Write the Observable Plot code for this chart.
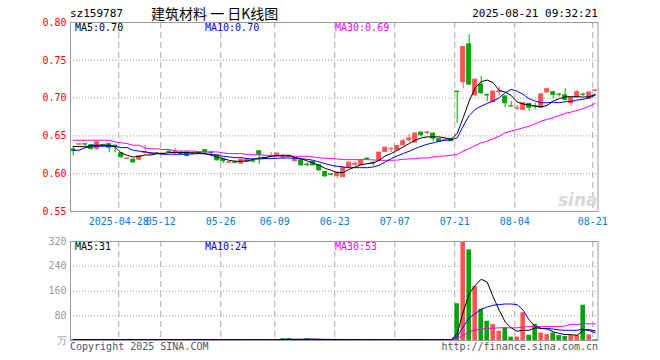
<!DOCTYPE html>
<html>
<head>
<meta charset="utf-8">
<script src="https://cdn.jsdelivr.net/npm/d3@7"></script>
<script src="https://cdn.jsdelivr.net/npm/@observablehq/plot@0.6"></script>
<style>
  html, body { margin: 0; padding: 0; background: #fff; }
  #wrap { position: relative; width: 660px; height: 360px; background: #fff; overflow: hidden;
          font-family: "DejaVu Sans Mono", "Liberation Mono", monospace; font-size: 10px; }
  .abs { position: absolute; white-space: nowrap; line-height: 1; }
  svg { position: absolute; left: 0; overflow: visible; }
</style>
</head>
<body>
<div id="wrap">
  <div class="abs" style="left:70px;top:8px;font-size:11px;color:#000;">sz159787</div>
  <div class="abs" style="left:151px;top:6px;font-size:14px;color:#000;font-family:'Noto Sans CJK SC',sans-serif;">建筑材料 一 日K线图</div>
  <div class="abs" style="right:62px;top:8px;font-size:11px;color:#000;">2025-08-21 09:32:21</div>
  <div class="abs" style="left:75px;top:23px;color:#000;">MA5:0.70</div>
  <div class="abs" style="left:205px;top:23px;color:#0000ff;">MA10:0.70</div>
  <div class="abs" style="left:335px;top:23px;color:#ff00ff;">MA30:0.69</div>
  <div class="abs" style="left:75px;top:242px;color:#000;z-index:2;">MA5:31</div>
  <div class="abs" style="left:205px;top:242px;color:#0000ff;z-index:2;">MA10:24</div>
  <div class="abs" style="left:335px;top:242px;color:#ff00ff;z-index:2;">MA30:53</div>
  <div class="abs" style="left:70px;top:342px;color:#555;">Copyright 2025 SINA.COM</div>
  <div class="abs" style="right:62px;top:342px;color:#555;">http://finance.sina.com.cn</div>
  <div class="abs" style="left:558px;top:192px;font-size:17px;font-weight:bold;font-style:italic;color:#d8d8d8;font-family:'DejaVu Sans',sans-serif;z-index:2;">sina</div>
</div>
<script>
// ---- data ----
const tickIdx    = [8, 15, 25, 34, 44, 54, 64, 74, 87];
const tickLabels = ["2025-04-28", "05-12", "05-26", "06-09", "06-23", "07-07", "07-21", "08-04", "08-21"];
const priceTicks = [0.55, 0.60, 0.65, 0.70, 0.75, 0.80];
const volTicks   = [0, 80, 160, 240, 320];

const openP = [
  0.632,0.6385,0.6390,0.6376,0.6330,0.6380,0.6390,0.6370,0.6270,0.6195,
  0.6186,0.6186,0.6275,0.6260,0.6270,0.6260,0.6292,0.6290,0.6280,0.6280,
  0.6270,0.6280,0.6310,0.6280,0.6244,0.6190,0.6145,0.6150,0.6133,0.6155,
  0.6165,0.6297,0.6210,0.6222,0.6230,0.6222,0.6228,0.6165,0.6177,0.6120,
  0.6155,0.6110,0.6023,0.5990,0.5970,0.5956,0.6089,0.6120,0.6111,0.6200,
  0.6143,0.6177,0.6288,0.6325,0.6310,0.6376,0.6443,0.6412,0.6544,0.6540,
  0.6531,0.6456,0.6440,0.6461,0.7085,0.7211,0.7710,0.7035,0.7180,0.7040,
  0.6946,0.7080,0.7021,0.6890,0.6862,0.6845,0.6924,0.6890,0.6871,0.7074,
  0.7078,0.7045,0.7035,0.6932,0.7012,0.7045,0.6991,0.7095];
const highP = [
  0.6354,0.6400,0.6395,0.6380,0.6420,0.6390,0.6400,0.6380,0.6275,0.6210,
  0.6190,0.6232,0.6376,0.6280,0.6275,0.6270,0.6310,0.6330,0.6285,0.6285,
  0.6285,0.6285,0.6315,0.6285,0.6250,0.6195,0.6155,0.6170,0.6186,0.6190,
  0.6177,0.6300,0.6215,0.6280,0.6270,0.6250,0.6232,0.6215,0.6180,0.6142,
  0.6158,0.6115,0.6030,0.6000,0.6018,0.6076,0.6150,0.6155,0.6170,0.6205,
  0.6155,0.6280,0.6348,0.6333,0.6370,0.6456,0.6518,0.6535,0.6548,0.6562,
  0.6535,0.6460,0.6465,0.6465,0.7085,0.7675,0.7840,0.7243,0.7286,0.7055,
  0.7090,0.7154,0.7035,0.6955,0.6902,0.6935,0.6928,0.6932,0.7060,0.7120,
  0.7080,0.7066,0.7123,0.7008,0.7100,0.7066,0.7078,0.7110];
const lowP = [
  0.6235,0.6375,0.6350,0.6310,0.6310,0.6360,0.6275,0.6275,0.6200,0.6190,
  0.6140,0.6175,0.6260,0.6250,0.6250,0.6250,0.6280,0.6244,0.6255,0.6220,
  0.6250,0.6255,0.6275,0.6240,0.6170,0.6133,0.6135,0.6135,0.6130,0.6150,
  0.6142,0.6120,0.6190,0.6210,0.6225,0.6190,0.6215,0.6160,0.6105,0.6090,
  0.6105,0.6030,0.5956,0.5978,0.5934,0.5950,0.6085,0.6098,0.6105,0.6177,
  0.6098,0.6175,0.6285,0.6279,0.6305,0.6370,0.6412,0.6410,0.6487,0.6518,
  0.6420,0.6415,0.6430,0.6425,0.6665,0.7123,0.7167,0.7030,0.7050,0.6955,
  0.6940,0.7020,0.6871,0.6885,0.6836,0.6840,0.6826,0.6845,0.6865,0.7070,
  0.6990,0.7013,0.6970,0.6889,0.7010,0.7022,0.6980,0.7090];
const closeP = [
  0.6300,0.6390,0.6385,0.6328,0.6416,0.6375,0.6345,0.6355,0.6221,0.6200,
  0.6150,0.6230,0.6285,0.6270,0.6262,0.6266,0.6290,0.6295,0.6260,0.6235,
  0.6275,0.6265,0.6280,0.6275,0.6177,0.6165,0.6150,0.6145,0.6186,0.6190,
  0.6160,0.6252,0.6195,0.6235,0.6266,0.6220,0.6222,0.6212,0.6110,0.6115,
  0.6110,0.6045,0.5965,0.5985,0.6014,0.6076,0.6146,0.6133,0.6168,0.6195,
  0.6140,0.6279,0.6345,0.6330,0.6367,0.6429,0.6465,0.6531,0.6509,0.6544,
  0.6465,0.6420,0.6445,0.6430,0.7080,0.7675,0.7180,0.7243,0.7065,0.7035,
  0.7087,0.7087,0.6932,0.6888,0.6866,0.6932,0.6871,0.6888,0.7048,0.7118,
  0.7044,0.7043,0.6977,0.7004,0.7078,0.7043,0.7074,0.7100];

const ma5 = [
  0.636,0.636,0.6354,0.6376,0.6376,0.6376,0.6376,0.6354,0.6275,0.6244,
  0.622,0.623,0.6248,0.6248,0.6266,0.6266,0.628,0.628,0.628,0.628,
  0.6275,0.6275,0.6266,0.6244,0.622,0.620,0.6177,0.6164,0.6164,0.6168,
  0.619,0.6208,0.6213,0.623,0.6239,0.6244,0.6244,0.6213,0.620,0.6168,
  0.6142,0.6111,0.607,0.6045,0.6014,0.6014,0.6058,0.6089,0.612,0.6133,
  0.6142,0.6177,0.6235,0.6266,0.631,0.6354,0.6398,0.6443,0.6473,0.6487,
  0.6487,0.6487,0.6473,0.6454,0.6532,0.674,0.6961,0.7137,0.7217,0.7239,
  0.7204,0.7102,0.708,0.7036,0.6947,0.6921,0.6912,0.6894,0.6885,0.6903,
  0.6961,0.6992,0.7018,0.7018,0.7018,0.7014,0.7018,0.7049];
const ma10 = [
  0.631,0.631,0.6345,0.6354,0.6363,0.6363,0.6363,0.6363,0.6345,0.6345,
  0.631,0.6299,0.6288,0.6275,0.6266,0.6257,0.6257,0.6257,0.6257,0.6257,
  0.6262,0.6266,0.6262,0.6257,0.6244,0.623,0.6222,0.6213,0.6213,0.620,
  0.6195,0.6195,0.620,0.620,0.6204,0.6208,0.6208,0.6204,0.6195,0.619,
  0.6177,0.6155,0.6133,0.6111,0.6098,0.6089,0.608,0.608,0.608,0.608,
  0.6089,0.6111,0.6155,0.620,0.6235,0.6266,0.6297,0.6332,0.6363,0.6389,
  0.6407,0.6429,0.6443,0.6445,0.6474,0.6629,0.677,0.685,0.6894,0.693,
  0.6961,0.7005,0.7071,0.7115,0.7093,0.7049,0.6992,0.6961,0.6939,0.6939,
  0.6947,0.6939,0.6952,0.6956,0.6974,0.6983,0.7005,0.7036];
const ma30 = [
  0.6443,0.6443,0.6443,0.6443,0.6443,0.6443,0.6443,0.642,0.641,0.6398,
  0.6376,0.6376,0.634,0.633,0.633,0.632,0.632,0.630,0.630,0.630,
  0.630,0.6288,0.6288,0.6288,0.6288,0.6275,0.6266,0.6266,0.6266,0.6255,
  0.625,0.625,0.6245,0.6235,0.6235,0.623,0.623,0.623,0.623,0.623,
  0.6222,0.621,0.6205,0.620,0.6195,0.6186,0.6186,0.6186,0.6186,0.6186,
  0.6182,0.6177,0.6177,0.6177,0.618,0.619,0.6195,0.620,0.6208,0.6208,
  0.622,0.6231,0.6235,0.6244,0.6253,0.6298,0.6333,0.6373,0.6408,0.643,
  0.6461,0.6497,0.6541,0.6563,0.6585,0.6607,0.6629,0.666,0.6695,0.6718,
  0.674,0.677,0.6797,0.6815,0.6837,0.6859,0.6894,0.693];

const vol = [
  2,2,3,2,3,2,2,2,3,2,
  2,2,3,2,2,2,2,3,2,2,
  2,2,2,2,3,2,2,2,2,2,
  2,3,2,2,2,6,6,2,3,5,
  2,3,3,3,3,3,2,2,2,2,
  2,3,3,2,2,3,3,3,2,2,
  2,2,2,3,119,320,293,175,101,62,
  52,30,41,11,11,90,17,52,24,19,
  24,16,13,16,16,114,18,3];
const volMa5 = [
  2.4,2.4,2.4,2.4,2.4,2.4,2.4,2.4,2.4,2.4,
  2.4,2.4,2.4,2.4,2.4,2.4,2.4,2.4,2.4,2.4,
  2.4,2.4,2.4,2.4,2.4,2.4,2.4,2.4,2.4,2.4,
  2.4,2.4,2.4,2.4,2.4,3.2,4,4,4,4.4,
  4.4,3.6,3.2,3.2,3,3,2.8,2.6,2.4,2.2,
  2.2,2.4,2.4,2.4,2.4,2.6,2.6,2.8,2.6,2.4,
  2.4,2.2,2.2,2.2,22,92,151,178,198,189,
  141,98,60,41,30,33,33,41,39,37,
  28,23,19,19,17,33,35,31];
const volMa10 = [
  2.5,2.5,2.5,2.5,2.5,2.5,2.5,2.5,2.5,2.5,
  2.5,2.5,2.5,2.5,2.5,2.5,2.5,2.5,2.5,2.5,
  2.5,2.5,2.5,2.5,2.5,2.5,2.5,2.5,2.5,2.5,
  2.5,2.5,2.5,2.5,2.5,2.8,3.2,3.2,3.3,3.6,
  3.6,3.6,3.6,3.6,3.4,3.1,2.8,2.8,2.7,2.4,
  2.4,2.4,2.4,2.4,2.4,2.4,2.4,2.4,2.4,2.4,
  2.4,2.4,2.4,2.4,12,44,73,87,101,108,
  114,116,118,118,116,98,66,47,39,39,
  37,34,33,33,33,37,32,25];
const volMa30 = [
  2.8,2.8,2.8,2.8,2.8,2.8,2.8,2.8,2.8,2.8,
  2.8,2.8,2.8,2.8,2.8,2.8,2.8,2.8,2.8,2.8,
  2.8,2.8,2.8,2.8,2.8,2.8,2.8,2.8,2.8,2.8,
  2.8,2.8,2.8,2.8,2.8,2.8,2.8,2.8,2.8,2.8,
  2.8,2.8,2.8,2.8,2.8,2.8,2.8,2.8,2.8,2.8,
  2.8,2.8,2.8,2.8,2.8,2.8,2.8,2.8,2.8,2.8,
  2.8,2.8,2.8,2.8,6,17,28,33,37,39,
  40,41,41,41,41,44,45,45,45,45,
  45,45,47,52,52,54,54,54];

// ---- build table ----
const RED = "#ff5353", GREEN = "#00a600";
const rows = openP.map((o, i) => ({
  i, open: o, high: highP[i], low: lowP[i], close: closeP[i],
  ma5: ma5[i], ma10: ma10[i], ma30: ma30[i],
  vol: vol[i], vma5: volMa5[i], vma10: volMa10[i], vma30: volMa30[i],
  color: closeP[i] >= o ? RED : GREEN
}));

const xDomain = [-0.45, 87.47];
const W = 660, ML = 70, MR = 62.5;
const fontStyle = {fontFamily: "'DejaVu Sans Mono', monospace", fontSize: "10px", background: "transparent", overflow: "visible"};
const labelOf = d => tickLabels[tickIdx.indexOf(d)];

const price = Plot.plot({
  width: W, height: 232, marginLeft: ML, marginRight: MR, marginTop: 22, marginBottom: 21,
  style: fontStyle,
  x: {domain: xDomain, axis: null, label: null},
  y: {domain: [0.55, 0.80], axis: null, label: null},
  marks: [
    Plot.ruleY(priceTicks.slice(1, -1), {stroke: "#999", strokeDasharray: "1,2"}),
    Plot.ruleX(tickIdx, {dx: -2.4, stroke: "#aaa", strokeDasharray: "6,4"}),
    Plot.axisY({ticks: priceTicks, label: null, tickSize: 0, tickPadding: 4, tickFormat: d3.format(".2f"), color: "#ff0000", fontSize: 10}),
    Plot.axisX({ticks: tickIdx, label: null, tickFormat: labelOf, tickSize: 0, tickPadding: 6, dx: -2.4, color: "#0080e0", fontSize: 10}),
    Plot.ruleX(rows, {x: "i", y1: "low", y2: "high", stroke: "color"}),
    Plot.rect(rows, {x1: d => d.i - 0.33, x2: d => d.i + 0.33, y1: "open", y2: "close", fill: "color", stroke: "color"}),
    Plot.line(rows, {x: "i", y: "ma30", stroke: "#ff00ff", strokeWidth: 1}),
    Plot.line(rows, {x: "i", y: "ma10", stroke: "#0000ff", strokeWidth: 1}),
    Plot.line(rows, {x: "i", y: "ma5", stroke: "#000", strokeWidth: 1}),
    Plot.frame({stroke: "#999"})
  ]
});
price.style.top = "0px";

const volume = Plot.plot({
  width: W, height: 128, marginLeft: ML, marginRight: MR, marginTop: 9, marginBottom: 20,
  style: fontStyle,
  x: {domain: xDomain, axis: null, label: null},
  y: {domain: [0, 320], axis: null, label: null},
  marks: [
    Plot.ruleY(volTicks.slice(1, -1), {stroke: "#999", strokeDasharray: "1,2"}),
    Plot.ruleX(tickIdx, {dx: -2.4, stroke: "#aaa", strokeDasharray: "6,4"}),
    Plot.axisY({ticks: volTicks, label: null, tickSize: 0, tickPadding: 4, tickFormat: d => d === 0 ? "万" : String(d), color: "#999", fontSize: 10}),
    Plot.rect(rows, {x1: d => d.i - 0.38, x2: d => d.i + 0.38, y1: 0, y2: "vol", fill: "color"}),
    Plot.line(rows, {x: "i", y: "vma30", stroke: "#ff00ff", strokeWidth: 1}),
    Plot.line(rows, {x: "i", y: "vma10", stroke: "#0000ff", strokeWidth: 1}),
    Plot.line(rows, {x: "i", y: "vma5", stroke: "#000", strokeWidth: 1}),
    Plot.frame({stroke: "#999"})
  ]
});
volume.style.top = "232px";

const wrap = document.getElementById("wrap");
wrap.insertBefore(volume, wrap.firstChild);
wrap.insertBefore(price, wrap.firstChild);
</script>
</body>
</html>
